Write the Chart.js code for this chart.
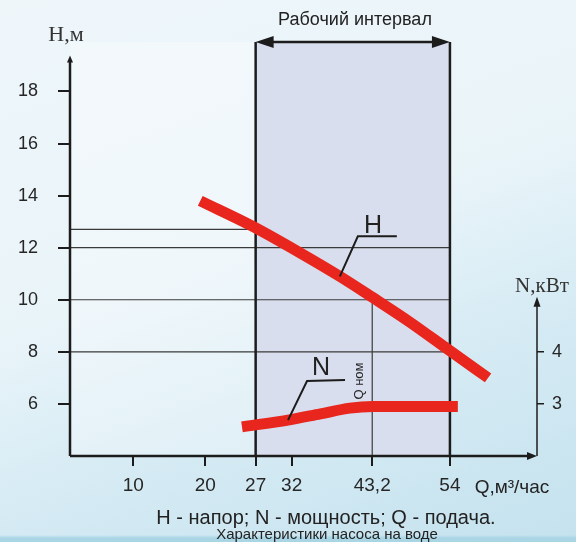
<!DOCTYPE html>
<html>
<head>
<meta charset="utf-8">
<script src="https://cdn.jsdelivr.net/npm/chart.js@4.4.0/dist/chart.umd.min.js"></script>
<style>
  html, body { margin: 0; padding: 0; }
  body {
    width: 576px; height: 542px; overflow: hidden; position: relative;
    font-family: "Liberation Sans", Arial, sans-serif; color: #222;
    background:
      linear-gradient(to bottom, rgba(0,0,0,0) 535px, #a9d5e5 538px),
      linear-gradient(160deg, #eef6fa 0%, #e9f4f9 45%, #d6ebf4 68%, #c4e2ee 100%);
  }
  canvas { position: absolute; left: 0; top: 0; }
  .t { position: absolute; white-space: nowrap; line-height: 1; transform: translate(-50%, -50%); }
  .serif { font-family: "Liberation Serif", "Times New Roman", serif; color: #333; }
</style>
</head>
<body>
<canvas id="pump" width="576" height="542"></canvas>

<div class="t" style="left:355px;top:19px;font-size:18px;">Рабочий интервал</div>
<div class="t serif" style="left:66px;top:34px;font-size:22px;">Н,м</div>
<div class="t serif" style="left:542px;top:285px;font-size:21px;">N,кВт</div>
<div class="t" style="left:512px;top:486px;font-size:19px;">Q,м³/час</div>
<div class="t" style="left:373px;top:224px;font-size:25px;">H</div>
<div class="t" style="left:321px;top:366px;font-size:25px;">N</div>
<div class="t" style="left:358px;top:381px;font-size:13px;transform:translate(-50%,-50%) rotate(-90deg);">Q ном</div>
<div class="t" style="left:326px;top:517px;font-size:20px;">H - напор; N - мощность; Q - подача.</div>
<div class="t" style="left:327px;top:533px;font-size:15px;">Характеристики насоса на воде</div>

<script>
// Характеристики насоса: напор H и мощность N от подачи Q
const qTicks = [10, 20, 27, 32, 43.2, 54];
const hTicks = [6, 8, 10, 12, 14, 16, 18];
const nTicks = [3, 4];

const headQ = [19.3, 26.6, 33.2, 38.7, 43.2, 48.4, 54.2, 59.3];
const headH = [13.8, 12.82, 11.8, 10.9, 10.1, 9.15, 8.0, 7.0];

const powerQ = [25.1, 31.5, 36.0, 40.1, 43.3, 55.1];
const powerN = [2.56, 2.69, 2.81, 2.92, 2.95, 2.95];

const workRange = [27, 54];
const qNom = 43.2;
const hLevels = [8, 10, 12];   // lines up to the end of the working range
const hAtStart = 12.7;         // line up to the start of the working range

const qMin = 1.2, qMax = 66.1;
const hMin = 4, hMax = 19.9, hAxisTop = 19.3;
const nAxisTop = 5.06;

const RED = '#e8261e';
const INK = '#1c1c1c';

function seg(ctx, x1, y1, x2, y2) {
  ctx.beginPath();
  ctx.moveTo(x1, y1);
  ctx.lineTo(x2, y2);
  ctx.stroke();
}

// filled arrow head, tip at (x, y), pointing along (dx, dy)
function head(ctx, x, y, dx, dy, len, half) {
  const px = -dy, py = dx;
  ctx.beginPath();
  ctx.moveTo(x, y);
  ctx.lineTo(x - dx * len + px * half, y - dy * len + py * half);
  ctx.lineTo(x - dx * len - px * half, y - dy * len - py * half);
  ctx.closePath();
  ctx.fill();
}

const decor = {
  id: 'decor',
  beforeDatasetsDraw(chart) {
    const { ctx, chartArea: a, scales: { x, yH } } = chart;
    const xa = x.getPixelForValue(workRange[0]);
    const xb = x.getPixelForValue(workRange[1]);
    ctx.save();
    // light field left of the working range
    ctx.fillStyle = 'rgba(255,255,255,0.3)';
    ctx.fillRect(a.left, a.top, xa - a.left, a.bottom - a.top);
    // working range
    ctx.fillStyle = '#d8deed';
    ctx.fillRect(xa, a.top, xb - xa, a.bottom - a.top);

    ctx.strokeStyle = '#3a3a3a';
    ctx.lineWidth = 1.2;
    hLevels.forEach((h) => {
      const y = yH.getPixelForValue(h);
      seg(ctx, a.left, y, xb, y);
    });
    const y127 = yH.getPixelForValue(hAtStart);
    seg(ctx, a.left, y127, xa, y127);
    const xn = x.getPixelForValue(qNom);
    seg(ctx, xn, yH.getPixelForValue(10), xn, a.bottom);

    ctx.strokeStyle = INK;
    ctx.fillStyle = INK;
    ctx.lineWidth = 2.5;
    seg(ctx, xa, a.top, xa, a.bottom);
    seg(ctx, xb, a.top, xb, a.bottom);
    // double arrow over the working range
    seg(ctx, xa + 8, a.top, xb - 8, a.top);
    head(ctx, xa, a.top, -1, 0, 18, 6);
    head(ctx, xb, a.top, 1, 0, 18, 6);
    ctx.restore();
  },
  afterDatasetsDraw(chart) {
    const { ctx, chartArea: a, scales: { x, yH, yN } } = chart;
    ctx.save();
    ctx.strokeStyle = INK;
    ctx.fillStyle = INK;
    // axes
    ctx.lineWidth = 2.5;
    const yTop = yH.getPixelForValue(hAxisTop);
    seg(ctx, a.left, a.bottom, a.left, yTop + 4);
    head(ctx, a.left, yTop - 2, 0, -1, 7, 3);
    seg(ctx, a.left, a.bottom, a.right - 6, a.bottom);
    head(ctx, a.right, a.bottom, 1, 0, 10, 4);
    ctx.lineWidth = 1.5;
    const nTop = yN.getPixelForValue(nAxisTop);
    seg(ctx, a.right, a.bottom, a.right, nTop + 6);
    head(ctx, a.right, nTop, 0, -1, 10, 3.5);

    // leader lines for the curve labels
    ctx.lineWidth = 2;
    const hx = x.getPixelForValue(headQ[3]), hy = yH.getPixelForValue(headH[3]);
    ctx.beginPath();
    ctx.moveTo(hx, hy);
    ctx.lineTo(hx + 18, hy - 40);
    ctx.lineTo(hx + 57, hy - 40);
    ctx.stroke();
    const nx = x.getPixelForValue(powerQ[1]), ny = yN.getPixelForValue(powerN[1]);
    ctx.beginPath();
    ctx.moveTo(nx, ny);
    ctx.lineTo(nx + 19, ny - 39);
    ctx.lineTo(nx + 57, ny - 40);
    ctx.stroke();
    ctx.restore();
  }
};

Chart.defaults.font.family = '"Liberation Sans", Arial, sans-serif';
Chart.defaults.color = '#262626';

new Chart(document.getElementById('pump'), {
  type: 'line',
  data: {
    datasets: [
      {
        label: 'H',
        data: headQ.map((q, i) => ({ x: q, y: headH[i] })),
        yAxisID: 'yH',
        borderColor: RED,
        borderWidth: 11,
        borderCapStyle: 'butt',
        pointRadius: 0,
        cubicInterpolationMode: 'monotone'
      },
      {
        label: 'N',
        data: powerQ.map((q, i) => ({ x: q, y: powerN[i] })),
        yAxisID: 'yN',
        borderColor: RED,
        borderWidth: 11,
        borderCapStyle: 'butt',
        pointRadius: 0,
        cubicInterpolationMode: 'monotone'
      }
    ]
  },
  options: {
    responsive: false,
    animation: false,
    layout: { padding: { left: 0, right: 0, top: 42, bottom: 46 } },
    plugins: { legend: { display: false }, tooltip: { enabled: false } },
    scales: {
      x: {
        type: 'linear',
        min: qMin,
        max: qMax,
        afterBuildTicks: (s) => { s.ticks = qTicks.map((v) => ({ value: v })); },
        afterFit: (s) => { s.height = 40; },
        border: { display: false },
        grid: { drawOnChartArea: false, tickLength: 10, color: INK, lineWidth: 2 },
        ticks: {
          autoSkip: false, maxRotation: 0, padding: 8,
          font: { size: 19 },
          callback: (v) => String(v).replace('.', ',')
        }
      },
      yH: {
        position: 'left',
        min: hMin,
        max: hMax,
        afterBuildTicks: (s) => { s.ticks = hTicks.map((v) => ({ value: v })); },
        afterFit: (s) => { s.width = 70; },
        border: { display: false },
        grid: { drawOnChartArea: false, tickLength: 12, color: INK, lineWidth: 2 },
        ticks: { padding: 20, font: { size: 18 } }
      },
      yN: {
        position: 'right',
        min: hMin / 2,
        max: hMax / 2,
        afterBuildTicks: (s) => { s.ticks = nTicks.map((v) => ({ value: v })); },
        afterFit: (s) => { s.width = 39; },
        border: { display: false },
        grid: { drawOnChartArea: false, tickLength: 7, color: INK, lineWidth: 1.5 },
        ticks: { padding: 8, font: { size: 18 } }
      }
    }
  },
  plugins: [decor]
});
</script>
</body>
</html>
